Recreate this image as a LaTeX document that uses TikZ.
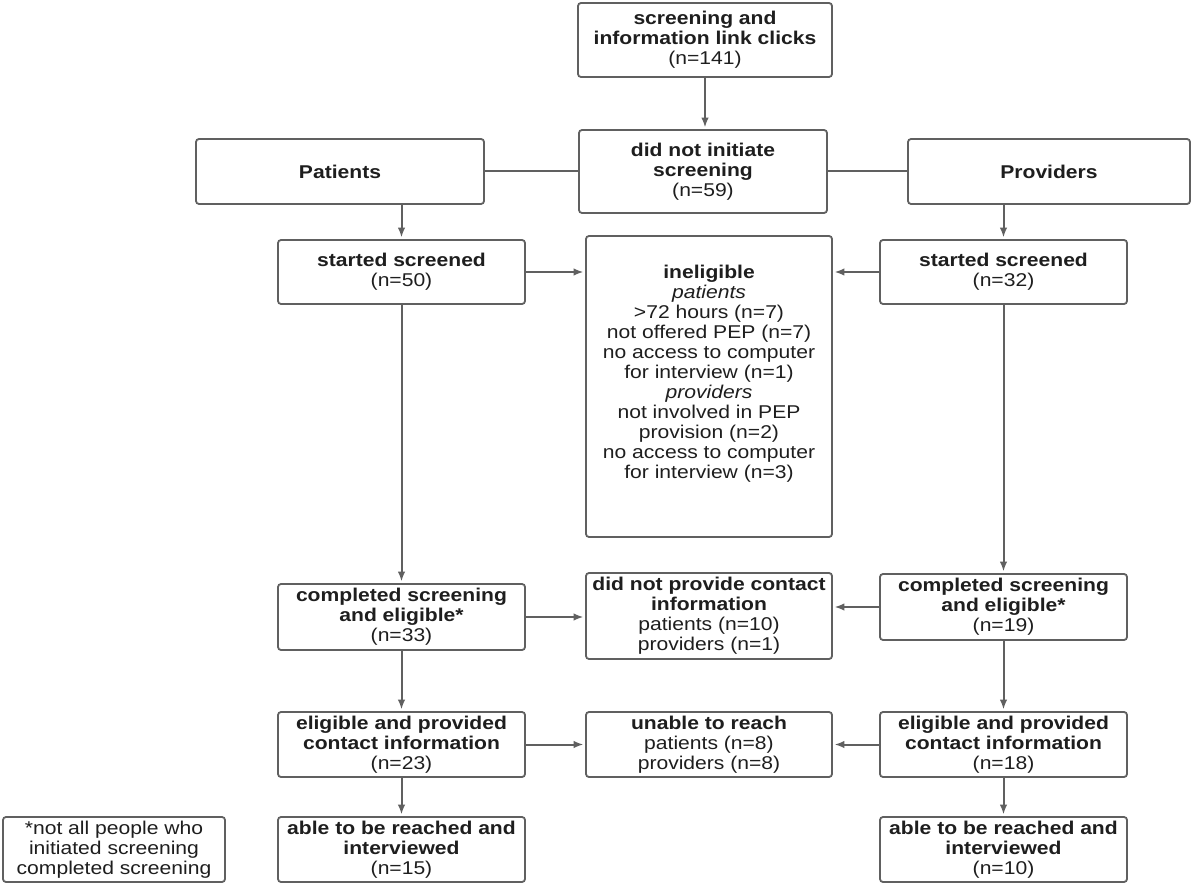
\documentclass[tikz,border=0pt]{standalone}
\usepackage{fontspec}
\setmainfont{Liberation Sans}[FakeStretch=1.14]
\usetikzlibrary{arrows.meta}
\definecolor{linec}{HTML}{606060}
\definecolor{txtc}{HTML}{1E1E1E}
\begin{document}
\begin{tikzpicture}[x=1pt,y=-1pt,
  box/.style={draw=linec, line width=1.8pt, rounded corners=3pt, align=center,
    inner sep=0pt, text=txtc, font=\fontsize{18.5}{20}\selectfont},
  txt/.style={align=center, inner sep=0pt, text=txtc, font=\fontsize{18.5}{20}\selectfont},
  conn/.style={draw=linec, line width=2pt},
  arr/.style={conn, -{Latex[length=10pt,width=7.5pt]}, shorten >=1.5pt}]
\useasboundingbox (0,0) rectangle (1200,885);
\fill[white] (0,0) rectangle (1200,885);

\node[box, minimum width=254pt, minimum height=74pt] (top) at (705,40)
  {\textbf{screening and}\\\textbf{information link clicks}\\(n=141)};
\node[box, minimum width=248pt, minimum height=83pt] (dni) at (703,171.5)
  {\textbf{did not initiate}\\\textbf{screening}\\(n=59)};
\node[box, minimum width=288pt, minimum height=65pt] (pat) at (340,171.5)
  {\textbf{Patients}};
\node[box, minimum width=282pt, minimum height=65pt] (prov) at (1049,171.5)
  {\textbf{Providers}};

\node[box, minimum width=247pt, minimum height=64pt] (ss1) at (401.5,272)
  {\textbf{started screened}\\(n=50)};
\node[box, minimum width=247pt, minimum height=64pt] (ss2) at (1003.5,272)
  {\textbf{started screened}\\(n=32)};
\node[box, minimum width=246pt, minimum height=301pt] (inel) at (709,386.5) {};
\node[txt] (ineltxt) at (709,373.5)
  {\textbf{ineligible}\\\textit{patients}\\>72 hours (n=7)\\not offered PEP (n=7)\\no access to computer\\for interview (n=1)\\\textit{providers}\\not involved in PEP\\provision (n=2)\\no access to computer\\for interview (n=3)};

\node[box, minimum width=247pt, minimum height=66pt] (cs1) at (401.5,617)
  {\textbf{completed screening}\\\textbf{and eligible*}\\(n=33)};
\node[box, minimum width=246pt, minimum height=86pt] (dnp) at (709,616)
  {\textbf{did not provide contact}\\\textbf{information}\\patients (n=10)\\providers (n=1)};
\node[box, minimum width=247pt, minimum height=66pt] (cs2) at (1003.5,607)
  {\textbf{completed screening}\\\textbf{and eligible*}\\(n=19)};

\node[box, minimum width=247pt, minimum height=65pt] (ep1) at (401.5,744.5)
  {\textbf{eligible and provided}\\\textbf{contact information}\\(n=23)};
\node[box, minimum width=246pt, minimum height=65pt] (utr) at (709,744.5)
  {\textbf{unable to reach}\\patients (n=8)\\providers (n=8)};
\node[box, minimum width=247pt, minimum height=65pt] (ep2) at (1003.5,744.5)
  {\textbf{eligible and provided}\\\textbf{contact information}\\(n=18)};

\node[box, minimum width=247pt, minimum height=65pt] (ab1) at (401.5,849.5)
  {\textbf{able to be reached and}\\\textbf{interviewed}\\(n=15)};
\node[box, minimum width=247pt, minimum height=65pt] (ab2) at (1003.5,849.5)
  {\textbf{able to be reached and}\\\textbf{interviewed}\\(n=10)};
\node[box, minimum width=222pt, minimum height=65pt] (foot) at (114,849.5)
  {*not all people who\\initiated screening\\completed screening};

% connectors
\draw[arr] (top.south) -- (top.south |- dni.north);
\draw[conn] (pat.east) -- (pat.east -| dni.west);
\draw[conn] (prov.west) -- (prov.west -| dni.east);
\draw[arr] (ss1.north |- pat.south) -- (ss1.north);
\draw[arr] (ss2.north |- prov.south) -- (ss2.north);
\draw[arr] (ss1.east) -- (ss1.east -| inel.west);
\draw[arr] (ss2.west) -- (ss2.west -| inel.east);
\draw[arr] (ss1.south) -- (cs1.north);
\draw[arr] (ss2.south) -- (cs2.north);
\draw[arr] (cs1.east) -- (cs1.east -| dnp.west);
\draw[arr] (cs2.west) -- (cs2.west -| dnp.east);
\draw[arr] (cs1.south) -- (ep1.north);
\draw[arr] (cs2.south) -- (ep2.north);
\draw[arr] (ep1.east) -- (ep1.east -| utr.west);
\draw[arr] (ep2.west) -- (ep2.west -| utr.east);
\draw[arr] (ep1.south) -- (ab1.north);
\draw[arr] (ep2.south) -- (ab2.north);
\end{tikzpicture}
\end{document}
